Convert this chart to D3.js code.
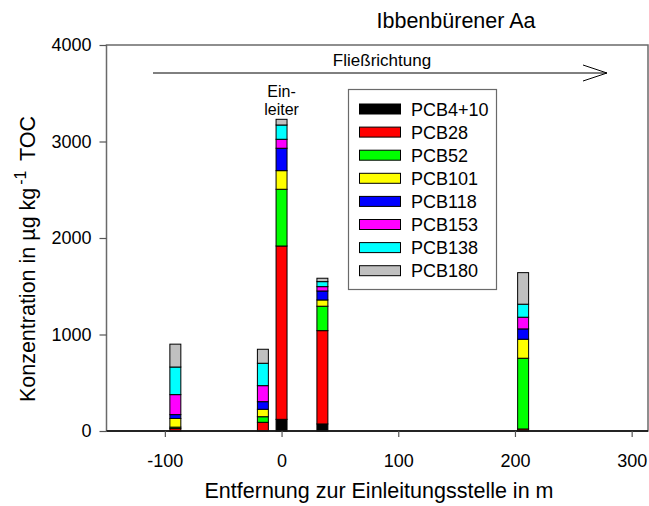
<!DOCTYPE html>
<html>
<head>
<meta charset="utf-8">
<script src="https://cdn.jsdelivr.net/npm/d3@7"></script>
<style>
  body { margin: 0; background: #fff; }
  svg { display: block; font-family: "Liberation Sans", Arial, sans-serif; }
</style>
</head>
<body>
<svg id="chart" width="649" height="506"></svg>
<script>
// Sampling positions (distance to discharge point, m)
const positions = [-91, -16, 0, 35, 207];

// Congener names and fill colours (stack order bottom to top)
const congeners = ["PCB4+10", "PCB28", "PCB52", "PCB101", "PCB118", "PCB153", "PCB138", "PCB180"];
const colors = ["#000000", "#ff0000", "#00ff00", "#ffff00", "#0000ff", "#ff00ff", "#00ffff", "#c0c0c0"];

// Concentrations in µg/kg TOC, one array per congener, aligned with positions
const pcb4_10 = [0, 0, 121, 73, 0];
const pcb28   = [25, 90, 1796, 967, 21];
const pcb52   = [15, 58, 588, 253, 733];
const pcb101  = [90, 77, 193, 65, 197];
const pcb118  = [40, 79, 232, 93, 107];
const pcb153  = [207, 166, 93, 45, 121];
const pcb138  = [286, 232, 148, 52, 135];
const pcb180  = [237, 145, 59, 35, 327];

const xTicks = [-100, 0, 100, 200, 300];
const yTicks = [0, 1000, 2000, 3000, 4000];

const series = [pcb4_10, pcb28, pcb52, pcb101, pcb118, pcb153, pcb138, pcb180];
const rows = positions.map((p, i) => {
  const r = { pos: p };
  congeners.forEach((c, k) => { r[c] = series[k][i]; });
  return r;
});

const svg = d3.select("#chart");
const plotL = 106.5, plotR = 648, plotT = 45, plotB = 431;

const x = d3.scaleLinear().domain([-150, 314]).range([plotL, plotR]);
const y = d3.scaleLinear().domain([0, 4000]).range([plotB, plotT]);

const stacked = d3.stack().keys(congeners)(rows);
const halfW = 4.7;

// Stacked bars
const layers = svg.append("g").selectAll("g")
  .data(stacked)
  .join("g")
  .attr("fill", (d, i) => colors[i]);

layers.selectAll("rect")
  .data(d => d.filter(s => s[1] - s[0] > 0))
  .join("rect")
  .attr("x", d => x(d.data.pos - halfW))
  .attr("width", d => x(d.data.pos + halfW) - x(d.data.pos - halfW))
  .attr("y", d => y(d[1]))
  .attr("height", d => y(d[0]) - y(d[1]))
  .attr("stroke", "#000")
  .attr("stroke-width", 1);

// Frame
svg.append("rect")
  .attr("x", plotL).attr("y", plotT)
  .attr("width", plotR - plotL).attr("height", plotB - plotT)
  .attr("fill", "none").attr("stroke", "#6a6a6a").attr("stroke-width", 1.5);

// Plain hyphen for negative tick labels
const fmt = d => String(d);

// Axes
const xAxis = svg.append("g")
  .attr("transform", `translate(0,${plotB})`)
  .call(d3.axisBottom(x).tickValues(xTicks).tickSize(6).tickPadding(17).tickFormat(fmt));
xAxis.select(".domain").attr("stroke", "#000").attr("stroke-width", 1.5).attr("d", `M${plotL},0H${plotR}`);
xAxis.selectAll(".tick line").attr("stroke", "#555").attr("stroke-width", 1.2);
xAxis.selectAll("text").attr("font-size", 18).attr("fill", "#000").attr("font-family", "Liberation Sans, Arial, sans-serif");

const yAxis = svg.append("g")
  .attr("transform", `translate(${plotL},0)`)
  .call(d3.axisLeft(y).tickValues(yTicks).tickSize(7).tickPadding(8).tickFormat(fmt));
yAxis.select(".domain").remove();
yAxis.selectAll(".tick line").attr("stroke", "#555").attr("stroke-width", 1.2);
yAxis.selectAll("text").attr("font-size", 18).attr("fill", "#000").attr("font-family", "Liberation Sans, Arial, sans-serif");

// Title
svg.append("text")
  .attr("x", 456).attr("y", 28)
  .attr("text-anchor", "middle").attr("font-size", 21.5)
  .text("Ibbenbürener Aa");

// Axis titles
svg.append("text")
  .attr("x", 379).attr("y", 498)
  .attr("text-anchor", "middle").attr("font-size", 21.5)
  .text("Entfernung zur Einleitungsstelle in m");

const yl = svg.append("text")
  .attr("transform", "translate(35,259) rotate(-90)")
  .attr("text-anchor", "middle").attr("font-size", 21.5);
yl.append("tspan").text("Konzentration in µg kg");
yl.append("tspan").attr("font-size", 16).attr("dx", 3).attr("dy", -9).text("-1");
yl.append("tspan").attr("dx", 4).attr("dy", 9).text(" TOC");

// Flow direction arrow
svg.append("text")
  .attr("x", 382).attr("y", 66)
  .attr("text-anchor", "middle").attr("font-size", 17)
  .text("Fließrichtung");
svg.append("line")
  .attr("x1", 153).attr("x2", 607).attr("y1", 73).attr("y2", 73)
  .attr("stroke", "#000").attr("stroke-width", 1);
svg.append("path")
  .attr("d", "M583,65L607,73L583,81")
  .attr("fill", "none").attr("stroke", "#000").attr("stroke-width", 1);

// Discharge point label
svg.append("text")
  .attr("x", x(0)).attr("y", 97)
  .attr("text-anchor", "middle").attr("font-size", 16)
  .text("Ein-");
svg.append("text")
  .attr("x", x(0)).attr("y", 115)
  .attr("text-anchor", "middle").attr("font-size", 16)
  .text("leiter");

// Legend
const lg = svg.append("g");
lg.append("rect")
  .attr("x", 348.5).attr("y", 89.5).attr("width", 148).attr("height", 200)
  .attr("fill", "#fff").attr("stroke", "#6a6a6a").attr("stroke-width", 1.2);
const item = lg.selectAll("g.item")
  .data(congeners)
  .join("g")
  .attr("class", "item")
  .attr("transform", (d, i) => `translate(0,${109 + i * 23.1})`);
item.append("rect")
  .attr("x", 359.5).attr("y", -5).attr("width", 41).attr("height", 10)
  .attr("fill", (d, i) => colors[i]).attr("stroke", "#000").attr("stroke-width", 1);
item.append("text")
  .attr("x", 411).attr("y", 6.5)
  .attr("font-size", 18)
  .text(d => d);
</script>
</body>
</html>
